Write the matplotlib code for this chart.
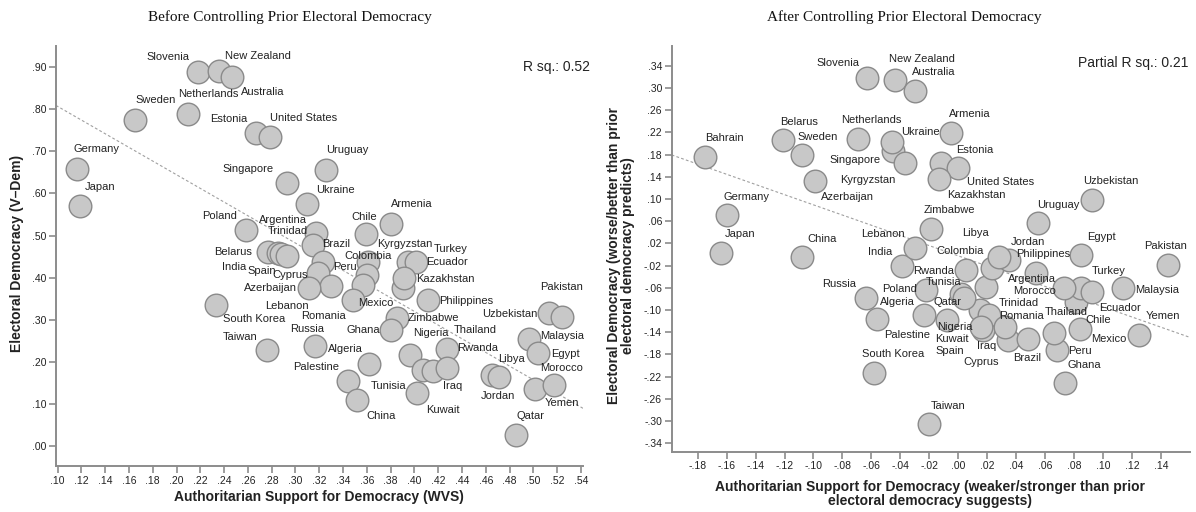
import numpy as np
import matplotlib
matplotlib.use("Agg")
import matplotlib.pyplot as plt
from matplotlib.ticker import FuncFormatter, FixedLocator

countries = ["Slovenia", "New Zealand", "Australia", "Sweden", "Netherlands", "Estonia",
             "United States", "Germany", "Japan", "Singapore", "Uruguay", "Ukraine", "Poland",
             "Armenia", "Chile", "Argentina", "Trinidad", "Belarus", "India", "Spain", "Cyprus",
             "Brazil", "Peru", "Lebanon", "Azerbaijan", "Colombia", "Bahrain", "Mexico", "Romania",
             "Kyrgyzstan", "Turkey", "Ecuador", "Kazakhstan", "Philippines", "Zimbabwe", "Ghana",
             "South Korea", "Taiwan", "Russia", "Algeria", "Palestine", "China", "Kuwait",
             "Nigeria", "Thailand", "Tunisia", "Iraq", "Rwanda", "Jordan", "Libya", "Uzbekistan",
             "Pakistan", "Malaysia", "Egypt", "Yemen", "Morocco", "Qatar"]

# before controlling: WVS authoritarian support vs V-Dem electoral democracy
before_x = [.218, .236, .247, .165, .210, .267, .279, .116, .119, .293, .326, .310, .258,
            .380, .359, .317, .315, .277, .285, .288, .293, .323, .319, .330, .311, .361,
            .360, .357, .348, .395, .401, .390, .391, .411, .385, .380, .233, .276, .316,
            .362, .344, .352, .402, .396, .427, .407, .416, .427, .465, .471, .513, .524,
            .496, .504, .501, .517, .485]
before_y = [.890, .892, .878, .775, .788, .745, .734, .658, .571, .626, .656, .574, .514,
            .527, .503, .507, .477, .461, .459, .456, .451, .438, .410, .381, .374, .438,
            .406, .382, .347, .438, .438, .374, .398, .347, .304, .275, .335, .228, .238,
            .194, .154, .109, .125, .216, .230, .180, .178, .186, .168, .164, .315, .307,
            .253, .220, .134, .144, .025]

# after controlling: residuals
after_x = [-.063, -.044, -.030, -.108, -.069, -.012, .000, -.160, -.164, -.045, .055, -.046,
           -.022, -.005, .081, .019, .015, -.121, -.039, .017, .034, .048, .068, -.030, -.099,
           .023, -.175, .084, .021, -.037, .085, .092, -.013, .054, -.019, .074, -.058, -.020,
           -.064, -.024, -.056, -.108, .016, -.008, .066, .002, .032, .005, .035, .028, .092,
           .145, .114, .085, .125, .073, .004]
after_y = [.317, .314, .294, .180, .208, .165, .155, .071, .003, .187, .056, .203, -.064,
           .218, -.085, -.058, -.100, .206, -.021, -.136, -.154, -.153, -.172, .011, .133,
           -.025, .176, -.135, -.109, .164, -.061, -.067, .136, -.034, .046, -.232, -.214,
           -.305, -.079, -.109, -.116, -.005, -.131, -.118, -.141, -.071, -.131, -.028, -.010,
           -.004, .098, -.019, -.061, -.001, -.145, -.061, -.079]

r2_before = "R sq.: 0.52"
r2_after = "Partial R sq.: 0.21"

before_xticks = np.arange(0.10, 0.5401, 0.02)
before_yticks = np.arange(0.0, 0.9001, 0.10)
after_xticks = np.arange(-0.18, 0.1401, 0.02)
after_yticks = np.arange(-0.34, 0.3401, 0.04)

# label offsets in pixels (dx right, dy down)
off_before = {
    "Slovenia": (-30, -15), "New Zealand": (39, -15), "Australia": (30, 15), "Sweden": (21, -20),
    "Netherlands": (20, -20), "Estonia": (-27, -14), "United States": (33, -19),
    "Germany": (20, -20), "Japan": (20, -19), "Singapore": (-39, -14), "Uruguay": (21, -20),
    "Ukraine": (28, -14), "Poland": (-26, -14), "Armenia": (21, -20), "Chile": (-1, -17),
    "Argentina": (-33, -13), "Trinidad": (-26, -14), "Belarus": (-35, 0), "India": (-44, 14),
    "Spain": (-19, 17), "Cyprus": (3, 19), "Brazil": (13, -18), "Peru": (27, -6),
    "Lebanon": (-44, 20), "Azerbaijan": (-38, 0), "Colombia": (0, -6), "Bahrain": None,
    "Mexico": (13, 18), "Romania": (-29, 16), "Kyrgyzstan": (-4, -18), "Turkey": (35, -13),
    "Ecuador": (44, -26), "Kazakhstan": (42, 1), "Philippines": (39, 1), "Zimbabwe": (37, 0),
    "Ghana": (-27, 0), "South Korea": (38, 14), "Taiwan": (-27, -13), "Russia": (-7, -17),
    "Algeria": (-24, -15), "Palestine": (-32, -14), "China": (24, 16), "Kuwait": (26, 17),
    "Nigeria": (21, -22), "Thailand": (29, -19), "Tunisia": (-34, 16), "Iraq": (19, 15),
    "Rwanda": (31, -20), "Jordan": (6, 21), "Libya": (13, -18), "Uzbekistan": (-39, 1),
    "Pakistan": (0, -30), "Malaysia": (33, -3), "Egypt": (27, 1), "Yemen": (27, 14),
    "Morocco": (8, -17), "Qatar": (15, -19)}
off_after = {
    "Slovenia": (-29, -15), "New Zealand": (27, -21), "Australia": (19, -19), "Sweden": (16, -18),
    "Netherlands": (13, -19), "Estonia": (34, -13), "United States": (42, 14),
    "Germany": (20, -18), "Japan": (19, -19), "Singapore": (-38, 9), "Uruguay": (20, -18),
    "Ukraine": (29, -10), "Poland": (-27, -1), "Armenia": (19, -19), "Chile": (23, 18),
    "Argentina": (46, -8), "Trinidad": (39, -7), "Belarus": (16, -18), "India": (-22, -14),
    "Spain": (-33, 21), "Cyprus": (-26, 22), "Brazil": (-1, 19), "Peru": (23, 1),
    "Lebanon": (-32, -14), "Azerbaijan": (33, 16), "Colombia": (-32, -17), "Bahrain": (20, -19),
    "Mexico": (29, 10), "Romania": (33, 1), "Kyrgyzstan": (-37, 17), "Turkey": (27, -17),
    "Ecuador": (28, 16), "Kazakhstan": (37, 16), "Philippines": (7, -19), "Zimbabwe": (19, -19),
    "Ghana": (19, -18), "South Korea": (19, -19), "Taiwan": (19, -18), "Russia": (-26, -14),
    "Algeria": (-26, -13), "Palestine": (30, 16), "China": (20, -18), "Kuwait": (-30, 12),
    "Nigeria": (8, 7), "Thailand": (12, -21), "Tunisia": (-18, -12), "Iraq": (-18, 19),
    "Rwanda": (-32, 1), "Jordan": (19, -18), "Libya": (-23, -24), "Uzbekistan": (19, -19),
    "Pakistan": (-3, -19), "Malaysia": (34, 2), "Egypt": (20, -18), "Yemen": (24, -19),
    "Morocco": (-29, 3), "Qatar": (-17, 4)}

W, H = 1196, 512
sans = "Liberation Sans"
serif = "Liberation Serif"
txt_col = "#222222"
axis_col = "#8c8c8c"


def spss_fmt(v, pos):
    s = f"{abs(v):.2f}".lstrip("0")
    if v < -1e-9:
        s = "-" + s
    return s


def px_axes(x0, x1, y0, y1):
    # pixel box (top-left origin) -> figure axes
    return fig.add_axes([x0 / W, 1 - y1 / H, (x1 - x0) / W, (y1 - y0) / H])


def style(ax, xticks, yticks):
    for s in ["top", "right"]:
        ax.spines[s].set_visible(False)
    for s in ["left", "bottom"]:
        ax.spines[s].set_color(axis_col)
        ax.spines[s].set_linewidth(1.4)
    ax.xaxis.set_major_locator(FixedLocator(xticks))
    ax.yaxis.set_major_locator(FixedLocator(yticks))
    ax.xaxis.set_major_formatter(FuncFormatter(spss_fmt))
    ax.yaxis.set_major_formatter(FuncFormatter(spss_fmt))
    ax.tick_params(length=5, width=1.2, color=axis_col, pad=2, labelsize=7.5,
                   labelcolor=txt_col)
    for lab in ax.get_xticklabels() + ax.get_yticklabels():
        lab.set_fontfamily(sans)


def draw(ax, xs, ys, offsets):
    xs = np.array(xs)
    ys = np.array(ys)
    ax.scatter(xs, ys, s=265, facecolor="#c8c8c8", edgecolor="#8a8a8a", linewidths=1.0,
               zorder=3)
    k, b = np.polyfit(xs, ys, 1)
    lx = np.array(ax.get_xlim())
    ax.plot(lx, k * lx + b, ls=(0, (2.5, 2)), color="#a0a0a0", lw=0.8, zorder=2)
    for name, x, y in zip(countries, xs, ys):
        off = offsets[name]
        if off is None:
            continue
        ax.annotate(name, (x, y), xytext=(off[0], -off[1]), textcoords="offset pixels",
                    ha="center", va="center", fontsize=8, family=sans, color=txt_col,
                    zorder=4)


fig = plt.figure(figsize=(W / 100, H / 100), dpi=100)

ax1 = px_axes(56, 583, 46, 466)
ax1.set_xlim(0.0987, 0.5417)
ax1.set_ylim(-0.0483, 0.9508)
style(ax1, before_xticks, before_yticks)
draw(ax1, before_x, before_y, off_before)

ax2 = px_axes(671.7, 1190, 46, 451.7)
ax2.set_xlim(-0.1979, 0.1600)
ax2.set_ylim(-0.3551, 0.3755)
style(ax2, after_xticks, after_yticks)
draw(ax2, after_x, after_y, off_after)

fig.text(290 / W, 1 - 17 / H, "Before Controlling Prior Electoral Democracy", ha="center",
         va="center", fontsize=11, family=serif, color="#111111")
fig.text(904 / W, 1 - 17 / H, "After Controlling Prior Electoral Democracy", ha="center",
         va="center", fontsize=11, family=serif, color="#111111")

fig.text(590 / W, 1 - 66.7 / H, r2_before, ha="right", va="center", fontsize=10,
         family=sans, color=txt_col)
fig.text(1188 / W, 1 - 63.3 / H, r2_after, ha="right", va="center", fontsize=10,
         family=sans, color=txt_col)

fig.text(17.5 / W, 1 - 253 / H, "Electoral Democracy (V\u2013Dem)", rotation=90, ha="center",
         va="center", fontsize=10, fontweight="bold", family=sans, color=txt_col)
fig.text(319 / W, 1 - 497 / H, "Authoritarian Support for Democracy (WVS)", ha="center",
         va="center", fontsize=10, fontweight="bold", family=sans, color=txt_col)
fig.text(621 / W, 1 - 256 / H,
         "Electoral Democracy (worse/better than prior\nelectoral democracy predicts)",
         rotation=90, ha="center", va="center", multialignment="center", linespacing=1.0,
         fontsize=10, fontweight="bold", family=sans, color=txt_col)
fig.text(930 / W, 1 - 494 / H,
         "Authoritarian Support for Democracy (weaker/stronger than prior\nelectoral democracy suggests)",
         ha="center", va="center", multialignment="center", linespacing=1.0,
         fontsize=10, fontweight="bold", family=sans, color=txt_col)

fig.savefig("out.png", dpi=100)
